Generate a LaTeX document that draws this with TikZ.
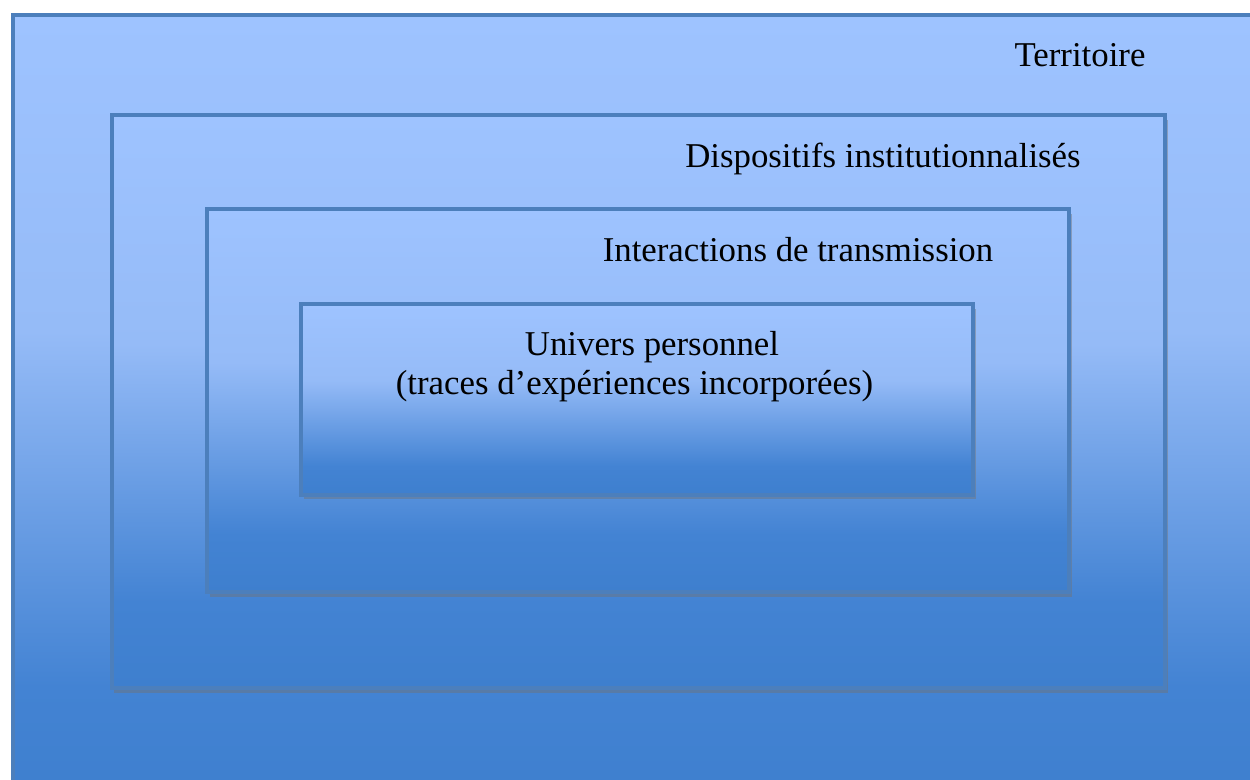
\documentclass[tikz,border=0pt]{standalone}
\usepackage{fontspec}
\setmainfont{Liberation Serif}
\definecolor{glt}{RGB}{158,195,255}
\definecolor{glt2}{RGB}{149,187,247}
\definecolor{gdk2}{RGB}{67,131,211}
\definecolor{gdk}{RGB}{62,127,206}
\definecolor{bordc}{RGB}{76,127,188}
\pgfdeclareverticalshading{boxgrad}{100bp}{color(0bp)=(gdk); color(25bp)=(gdk); color(32.5bp)=(gdk2); color(55bp)=(glt2); color(75bp)=(glt); color(100bp)=(glt)}
\tikzset{
  layerbox/.style={shading=boxgrad, draw=bordc, line width=2pt},
  layershadow/.style={fill=black!55, fill opacity=0.45, draw=none},
  layertext/.style={font=\fontsize{17.4}{20}\selectfont, text=black, inner sep=0pt, anchor=base}
}
\begin{document}
\begin{tikzpicture}[x=0.5pt,y=-0.5pt]
\useasboundingbox (0,0) rectangle (1250,780);
\clip (0,0) rectangle (1250,780);
\fill[white] (0,0) rectangle (1250,780);
% outer box
\path[layerbox] (13,15) rectangle (1253,805);
% box 2
\fill[layershadow] (114,120) rectangle (1168,693);
\path[layerbox] (111.5,115) rectangle (1165,688);
% box 3
\fill[layershadow] (210,214) rectangle (1072,597);
\path[layerbox] (207,209) rectangle (1069,592);
% box 4
\fill[layershadow] (304,309) rectangle (976,499);
\path[layerbox] (301,304) rectangle (973,495);
% labels
\node[layertext] (territoire) at (1080,67) {Territoire};
\node[layertext] (dispositifs) at (883,168) {Dispositifs institutionnalisés};
\node[layertext] (interactions) at (798,262) {Interactions de transmission};
\node[layertext] (univers) at (652,356) {Univers personnel};
\node[layertext] (traces) at (634.5,395) {(traces d’expériences incorporées)};
\end{tikzpicture}
\end{document}
